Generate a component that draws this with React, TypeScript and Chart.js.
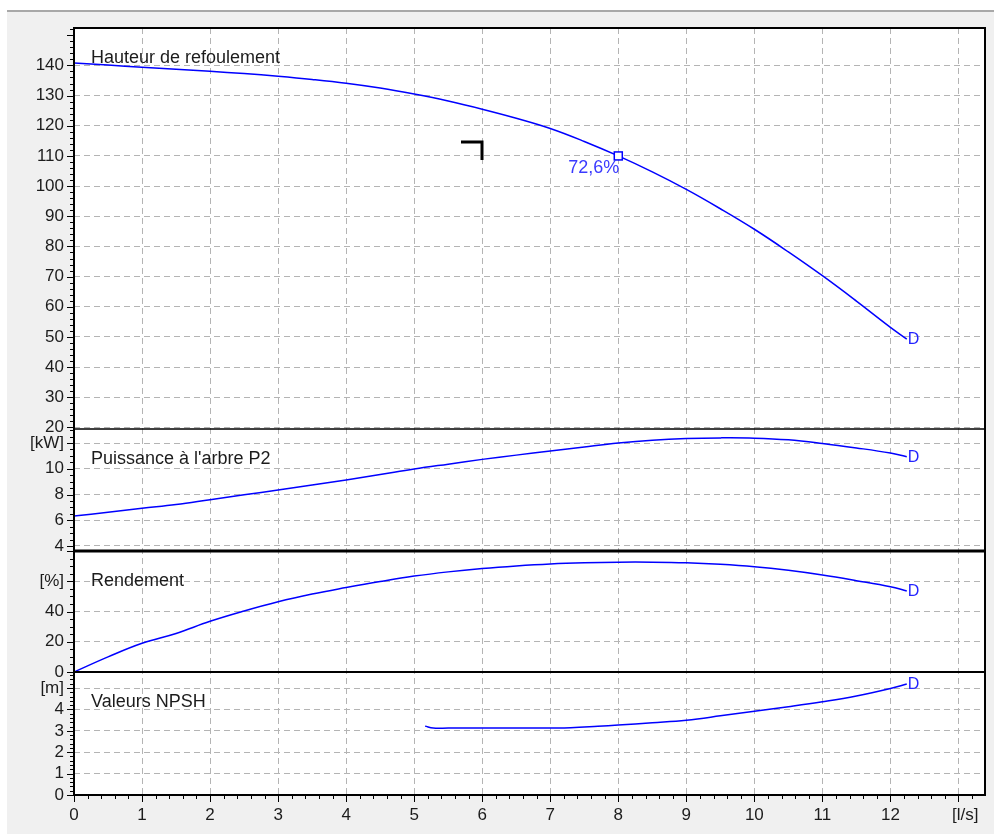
import React, { useEffect, useRef } from 'react';
import { Chart, registerables } from 'chart.js';

Chart.register(...registerables);

// Flow rate [l/s] shared by the head, power and efficiency curves
const flow = [0, 0.5, 1, 1.5, 2, 2.5, 3, 3.5, 4, 4.5, 5, 5.5, 6, 6.5, 7, 7.5, 8, 8.5, 9, 9.5, 10, 10.5, 11, 11.5, 12, 12.24];
// Hauteur de refoulement [m]
const head = [140.8, 140.1, 139.4, 138.75, 138.05, 137.3, 136.4, 135.35, 134.1, 132.5, 130.5, 128.2, 125.5, 122.5, 119.1, 114.8, 110.0, 104.7, 98.9, 92.5, 85.7, 78.2, 70.3, 61.9, 53.2, 49.3];
// Puissance à l'arbre P2 [kW]
const power = [6.33, 6.62, 6.93, 7.22, 7.6, 7.98, 8.35, 8.74, 9.13, 9.55, 9.98, 10.36, 10.73, 11.06, 11.38, 11.7, 12.0, 12.22, 12.35, 12.4, 12.38, 12.25, 11.97, 11.62, 11.22, 10.94];
// Rendement [%]
const efficiency = [0, 10, 19, 25.5, 33.5, 40.3, 46.4, 51.5, 55.8, 59.8, 63.4, 66.2, 68.4, 70.1, 71.4, 72.2, 72.6, 72.6, 72.2, 71.2, 69.6, 67.2, 64.1, 60.4, 56.4, 53.6];
// Valeurs NPSH [m]
const npshFlow = [5.16, 5.28, 5.5, 6, 6.5, 7, 7.3, 7.7, 8, 8.5, 9, 9.5, 10, 10.5, 11, 11.5, 12, 12.24];
const npsh = [3.22, 3.13, 3.13, 3.13, 3.13, 3.13, 3.14, 3.21, 3.27, 3.38, 3.5, 3.7, 3.92, 4.13, 4.36, 4.63, 4.98, 5.19];

// Operating point (marked on the head curve, labelled with its efficiency)
const operatingFlow = 8;
// Requested duty point
const dutyFlow = 6;
const dutyHead = 114.6;

// Axis ticks and labels
const flowTicks = [0, 1, 2, 3, 4, 5, 6, 7, 8, 9, 10, 11, 12, 13];
const flowUnit = '[l/s]';
const flowUnitAt = 13.1;
const headTicks = [20, 30, 40, 50, 60, 70, 80, 90, 100, 110, 120, 130, 140];
const powerTicks = [4, 6, 8, 10, 12];
const effTicks = [0, 20, 40, 60];
const npshTicks = [0, 1, 2, 3, 4, 5];

const panelTitles = ['Hauteur de refoulement', "Puissance à l'arbre P2", 'Rendement', 'Valeurs NPSH'];
const panelUnits = ['', '[kW]', '[%]', '[m]'];

const FONT = '"Liberation Sans", Arial, sans-serif';
const LINE = '#0000ff';
const GRID = '#b4b4b4';
const TEXT = '#1c1c1c';

type Panel = {
  id: string;
  min: number;
  max: number;
  weight: number;
  order: number;
  ticks: number[];
  unit: string;
  minor: number;
  major: number;
  title: string;
};

const panels: Panel[] = [
  { id: 'yHead', min: 19.5, max: 152.4, weight: 401, order: 4, ticks: headTicks, unit: panelUnits[0], minor: 2, major: 10, title: panelTitles[0] },
  { id: 'yPower', min: 3.61, max: 13.09, weight: 122, order: 3, ticks: powerTicks, unit: panelUnits[1], minor: 0.5, major: 2, title: panelTitles[1] },
  { id: 'yEff', min: 0, max: 80, weight: 121, order: 2, ticks: effTicks, unit: panelUnits[2], minor: 5, major: 20, title: panelTitles[2] },
  { id: 'yNpsh', min: 0, max: 5.75, weight: 123, order: 1, ticks: npshTicks, unit: panelUnits[3], minor: 0.2, major: 1, title: panelTitles[3] },
];

const near = (a: number, b: number) => Math.abs(a - b) < 1e-6;
const isMultiple = (v: number, step: number) => {
  const r = v / step;
  return Math.abs(r - Math.round(r)) < 1e-6;
};

function yScale(p: Panel) {
  const last = p.ticks[p.ticks.length - 1];
  return {
    type: 'linear',
    position: 'left',
    stack: 'pump',
    stackWeight: p.weight,
    weight: p.order,
    min: p.min,
    max: p.max,
    afterBuildTicks: (s: any) => {
      s.ticks = p.ticks.map((v) => ({ value: v }));
    },
    afterFit: (s: any) => {
      s.width = 60;
    },
    ticks: {
      autoSkip: false,
      padding: 10,
      color: TEXT,
      font: { family: FONT, size: 17 },
      callback: (v: number) => (p.unit && near(v, last) ? p.unit : String(v)),
    },
    grid: { color: GRID, drawTicks: false, lineWidth: 1 },
    border: { display: false, dash: [6, 4] },
  };
}

const panelPlugin = {
  id: 'pumpPanels',
  beforeDraw(chart: any) {
    const { ctx, chartArea: a } = chart;
    ctx.save();
    ctx.fillStyle = '#ffffff';
    ctx.fillRect(a.left, a.top, a.right - a.left, a.bottom - a.top);
    ctx.restore();
  },
  afterDraw(chart: any) {
    const { ctx, chartArea: a, scales } = chart;
    const xs = scales.x;
    ctx.save();

    // tick marks on the left axis
    ctx.strokeStyle = '#000';
    ctx.lineWidth = 1;
    panels.forEach((p) => {
      const s = scales[p.id];
      ctx.beginPath();
      for (let k = Math.ceil(p.min / p.minor); k * p.minor <= p.max + 1e-9; k++) {
        const v = k * p.minor;
        const y = Math.round(s.getPixelForValue(v)) + 0.5;
        const len = isMultiple(v, p.major) ? 7 : 4;
        ctx.moveTo(a.left - len, y);
        ctx.lineTo(a.left, y);
      }
      ctx.stroke();
    });

    // tick marks on the flow axis
    ctx.beginPath();
    for (let k = 0; k * 0.2 <= xs.max + 1e-9; k++) {
      const v = k * 0.2;
      const x = Math.round(xs.getPixelForValue(v)) + 0.5;
      const len = isMultiple(v, 1) ? 7 : 4;
      ctx.moveTo(x, a.bottom);
      ctx.lineTo(x, a.bottom + len);
    }
    ctx.stroke();

    // panel separators
    const sepWidths = [1.5, 3, 2];
    panels.slice(0, -1).forEach((p, i) => {
      const s = scales[p.id];
      ctx.lineWidth = sepWidths[i];
      ctx.beginPath();
      ctx.moveTo(a.left, s.bottom);
      ctx.lineTo(a.right, s.bottom);
      ctx.stroke();
    });

    // frame
    ctx.lineWidth = 2;
    ctx.strokeRect(a.left, a.top, a.right - a.left, a.bottom - a.top);

    // panel titles
    ctx.fillStyle = TEXT;
    ctx.font = `18px ${FONT}`;
    ctx.textAlign = 'left';
    ctx.textBaseline = 'alphabetic';
    panels.forEach((p) => {
      const s = scales[p.id];
      ctx.fillText(p.title, a.left + 17, s.top + 35);
    });

    // "D" at the end of each curve
    ctx.fillStyle = '#2424ff';
    ctx.font = `16px ${FONT}`;
    ctx.textBaseline = 'middle';
    chart.data.datasets.forEach((ds: any, i: number) => {
      const meta = chart.getDatasetMeta(i);
      const pt = meta.data[meta.data.length - 1];
      ctx.fillText('D', pt.x + 1, pt.y + 1);
    });

    // operating point marker with its efficiency
    const idx = flow.indexOf(operatingFlow);
    const ox = xs.getPixelForValue(operatingFlow);
    const oy = scales.yHead.getPixelForValue(head[idx]);
    ctx.fillStyle = '#ffffff';
    ctx.strokeStyle = LINE;
    ctx.lineWidth = 1.5;
    ctx.fillRect(ox - 4, oy - 4, 8, 8);
    ctx.strokeRect(ox - 4, oy - 4, 8, 8);
    ctx.fillStyle = '#3a3aff';
    ctx.font = `18px ${FONT}`;
    ctx.textAlign = 'right';
    ctx.textBaseline = 'middle';
    ctx.fillText(`${efficiency[idx].toFixed(1).replace('.', ',')}%`, ox + 1, oy + 12);

    // duty point corner
    const dx = Math.round(xs.getPixelForValue(dutyFlow));
    const dy = Math.round(scales.yHead.getPixelForValue(dutyHead));
    ctx.strokeStyle = '#000';
    ctx.lineWidth = 3;
    ctx.lineCap = 'butt';
    ctx.beginPath();
    ctx.moveTo(dx - 21, dy);
    ctx.lineTo(dx, dy);
    ctx.lineTo(dx, dy + 18);
    ctx.stroke();

    ctx.restore();
  },
};

export default function App() {
  const canvasRef = useRef<HTMLCanvasElement | null>(null);

  useEffect(() => {
    if (!canvasRef.current) return;
    const line = (xsArr: number[], ys: number[], axis: string) => ({
      type: 'line',
      data: xsArr.map((x, i) => ({ x, y: ys[i] })),
      yAxisID: axis,
      borderColor: LINE,
      borderWidth: 1.5,
      pointRadius: 0,
      fill: false,
      tension: 0.4,
    });

    const scales: any = {
      x: {
        type: 'linear',
        position: 'bottom',
        min: 0,
        max: 13.39,
        afterBuildTicks: (s: any) => {
          s.ticks = [...flowTicks.map((v) => ({ value: v })), { value: flowUnitAt }];
        },
        afterFit: (s: any) => {
          s.height = 30;
        },
        ticks: {
          autoSkip: false,
          maxRotation: 0,
          padding: 10,
          color: TEXT,
          font: { family: FONT, size: 17 },
          callback: (v: number) => (near(v, flowUnitAt) ? flowUnit : near(v, 13) ? '' : String(v)),
        },
        grid: {
          drawTicks: false,
          lineWidth: 1,
          color: (c: any) => (c.tick && near(c.tick.value, flowUnitAt) ? 'rgba(0,0,0,0)' : GRID),
        },
        border: { display: false, dash: [6, 4] },
      },
    };
    panels.forEach((p) => {
      scales[p.id] = yScale(p);
    });

    const chart = new Chart(canvasRef.current, {
      type: 'line',
      data: {
        datasets: [
          line(flow, head, 'yHead'),
          line(flow, power, 'yPower'),
          line(flow, efficiency, 'yEff'),
          line(npshFlow, npsh, 'yNpsh'),
        ] as any,
      },
      options: {
        responsive: false,
        animation: false,
        layout: { padding: { left: 14, top: 28, right: 9, bottom: 9 } },
        plugins: { legend: { display: false }, tooltip: { enabled: false } },
        scales,
      } as any,
      plugins: [panelPlugin],
    });
    return () => chart.destroy();
  }, []);

  return (
    <div style={{ position: 'fixed', left: 0, top: 0, width: 994, height: 834, background: '#ffffff', overflow: 'hidden' }}>
      <div
        style={{
          position: 'absolute',
          left: 7,
          top: 10,
          width: 987,
          height: 824,
          background: '#f0f0f0',
          borderTop: '2px solid #a8a8a8',
        }}
      />
      <canvas ref={canvasRef} width={994} height={834} style={{ position: 'absolute', left: 0, top: 0 }} />
    </div>
  );
}
